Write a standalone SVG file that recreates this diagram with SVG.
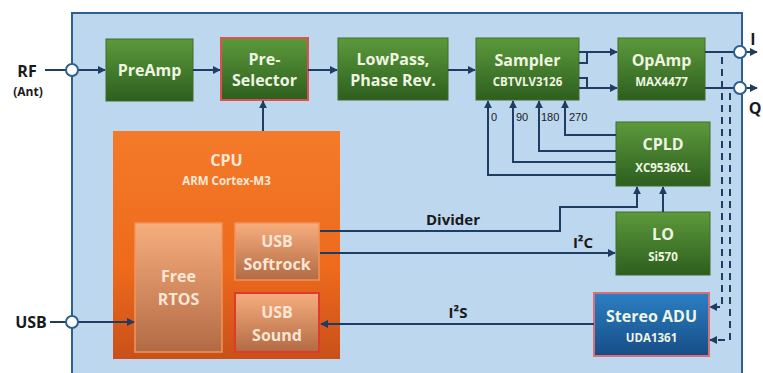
<svg xmlns="http://www.w3.org/2000/svg" width="763" height="373" viewBox="0 0 763 373">
<defs>
<linearGradient id="gGreen" x1="0" y1="0" x2="0" y2="1"><stop offset="0" stop-color="#5c9a3c"/><stop offset="1" stop-color="#2d5e1e"/></linearGradient>
<linearGradient id="gOrange" x1="0" y1="0" x2="0" y2="1"><stop offset="0" stop-color="#f47a2a"/><stop offset="0.6" stop-color="#ee6a1c"/><stop offset="1" stop-color="#c9501a"/></linearGradient>
<linearGradient id="gInner" x1="0" y1="0" x2="0" y2="1"><stop offset="0" stop-color="#f7ae7e"/><stop offset="1" stop-color="#b26a44"/></linearGradient>
<linearGradient id="gBlue" x1="0" y1="0" x2="0" y2="1"><stop offset="0" stop-color="#2b7fc4"/><stop offset="1" stop-color="#174d86"/></linearGradient>
<marker id="arr" viewBox="0 0 10 10" refX="9" refY="5" markerWidth="4" markerHeight="4" orient="auto-start-reverse"><path d="M0,0 L10,5 L0,10 z" fill="#1f3d63"/></marker>
<style>
.ln{fill:none;stroke:#1f3d63;stroke-width:2}
.dash{fill:none;stroke:#1f3d63;stroke-width:2;stroke-dasharray:7,5}
.green{fill:url(#gGreen);stroke:#3f6e2a;stroke-width:1}
.redb{stroke:#e05050;stroke-width:2}
.t{font-family:"Open Sans","Liberation Sans",sans-serif;font-weight:bold;text-anchor:middle}
.tw{fill:#eef6e2;font-size:16px}
.ts{fill:#eef6e2;font-size:11.5px}
.tk{fill:#1a1a1a}
.num{font-family:"Liberation Sans",Arial,sans-serif;font-size:11px;fill:#1a1a1a}
.circ{fill:#ffffff;stroke:#2f5f8f;stroke-width:2}
</style>
</defs>
<rect x="72" y="13" width="670" height="380" fill="#bcd7ee" stroke="#2f5f8f" stroke-width="2"/>

<g id="preamp"><rect class="green" x="106" y="39" width="87" height="62"/><text class="t tw" x="149.5" y="76">PreAmp</text></g>
<g id="preselector"><rect class="green redb" x="221" y="38" width="87" height="62"/><text class="t tw" x="264.5" y="65">Pre-</text><text class="t tw" x="264.5" y="86">Selector</text></g>
<g id="lowpass"><rect class="green" x="338" y="38" width="110" height="62"/><text class="t tw" x="393" y="65">LowPass,</text><text class="t tw" x="393" y="86">Phase Rev.</text></g>
<g id="sampler"><rect class="green" x="476" y="38" width="103" height="62"/><text class="t tw" x="527.5" y="66">Sampler</text><text class="t ts" x="527.5" y="86">CBTVLV3126</text></g>
<g id="opamp"><rect class="green" x="618" y="38" width="87" height="62"/><text class="t tw" x="661.5" y="66">OpAmp</text><text class="t ts" x="661.5" y="86">MAX4477</text></g>
<g id="cpld"><rect class="green" x="616" y="122" width="94" height="64"/><text class="t tw" x="663" y="150">CPLD</text><text class="t ts" x="663" y="172">XC9536XL</text></g>
<g id="lo"><rect class="green" x="616" y="212" width="94" height="63"/><text class="t tw" x="663" y="240">LO</text><text class="t ts" x="663" y="261">Si570</text></g>
<g id="adu"><rect x="594" y="293" width="115" height="63" fill="url(#gBlue)" stroke="#d8707a" stroke-width="2"/><text class="t tw" x="651.5" y="322" fill="#ffffff">Stereo ADU</text><text class="t ts" x="651.5" y="342">UDA1361</text></g>
<g id="cpu"><rect x="113" y="131" width="227" height="228" fill="url(#gOrange)"/><text class="t" x="226.5" y="166" font-size="16" fill="#fde8d6">CPU</text><text class="t" x="226.5" y="185" font-size="11.5" fill="#fde8d6">ARM Cortex-M3</text></g>
<g id="freertos"><rect x="135" y="223" width="87" height="129" fill="url(#gInner)" stroke="#f0955a" stroke-width="1.5"/><text class="t" x="178.5" y="282" font-size="16" fill="#fbe6d6">Free</text><text class="t" x="178.5" y="305" font-size="16" fill="#fbe6d6">RTOS</text></g>
<g id="usbsoftrock"><rect x="235" y="223" width="84" height="57" fill="url(#gInner)" stroke="#f0955a" stroke-width="1.5"/><text class="t" x="277" y="247" font-size="16" fill="#fbe6d6">USB</text><text class="t" x="277" y="270" font-size="16" fill="#fbe6d6">Softrock</text></g>
<g id="usbsound"><rect x="235" y="293" width="84" height="59" fill="url(#gInner)" stroke="#e03a2a" stroke-width="2"/><text class="t" x="277" y="318" font-size="16" fill="#fbe6d6">USB</text><text class="t" x="277" y="341" font-size="16" fill="#fbe6d6">Sound</text></g>

<g id="connectors">
<line class="ln" x1="45" y1="70" x2="66" y2="70"/>
<line class="ln" x1="78" y1="70" x2="105" y2="70" marker-end="url(#arr)"/>
<line class="ln" x1="193" y1="70" x2="220" y2="70" marker-end="url(#arr)"/>
<line class="ln" x1="308" y1="70" x2="337" y2="70" marker-end="url(#arr)"/>
<line class="ln" x1="448" y1="70" x2="475" y2="70" marker-end="url(#arr)"/>
<line class="ln" x1="263" y1="131" x2="263" y2="101" marker-end="url(#arr)"/>
<line class="ln" x1="579" y1="52" x2="617" y2="52" marker-end="url(#arr)"/>
<polyline class="ln" points="579,63 587,63 587,52"/>
<line class="ln" x1="579" y1="88" x2="617" y2="88" marker-end="url(#arr)"/>
<polyline class="ln" points="579,78 587,78 587,88"/>
<line class="ln" x1="705" y1="52" x2="734" y2="52"/>
<line class="ln" x1="705" y1="88" x2="734" y2="88"/>
<line class="ln" x1="746" y1="52" x2="757" y2="52" marker-end="url(#arr)"/>
<line class="ln" x1="746" y1="88" x2="757" y2="88" marker-end="url(#arr)"/>
<polyline class="dash" points="722,57 722,307 710,307" marker-end="url(#arr)"/>
<polyline class="dash" points="730,93 730,340 710,340" marker-end="url(#arr)"/>
<polyline class="ln" points="616,135 565,135 565,101" marker-end="url(#arr)"/>
<polyline class="ln" points="616,151 539,151 539,101" marker-end="url(#arr)"/>
<polyline class="ln" points="616,162 513,162 513,101" marker-end="url(#arr)"/>
<polyline class="ln" points="616,175 488,175 488,101" marker-end="url(#arr)"/>
<line class="ln" x1="663" y1="212" x2="663" y2="187" marker-end="url(#arr)"/>
<polyline class="ln" points="320,231 560,231 560,207 637,207 637,187" marker-end="url(#arr)"/>
<line class="ln" x1="320" y1="253" x2="615" y2="253" marker-end="url(#arr)"/>
<line class="ln" x1="594" y1="324" x2="321" y2="324" marker-end="url(#arr)"/>
<line class="ln" x1="50" y1="322" x2="66" y2="322"/>
<line class="ln" x1="78" y1="322" x2="134" y2="322" marker-end="url(#arr)"/>
</g>

<g id="ports">
<circle class="circ" cx="72" cy="70" r="6"/>
<circle class="circ" cx="72" cy="322" r="6"/>
<circle class="circ" cx="740" cy="52" r="6"/>
<circle class="circ" cx="740" cy="88" r="6"/>
</g>

<g id="labels">
<text class="t tk" x="27" y="77" font-size="16">RF</text>
<text class="t tk" x="28" y="96" font-size="12">(Ant)</text>
<text class="t tk" x="31" y="328" font-size="16">USB</text>
<text class="t tk" x="753" y="45" font-size="16">I</text>
<text class="t tk" x="755" y="114" font-size="16">Q</text>
<text class="num" x="491" y="121">0</text>
<text class="num" x="516" y="121">90</text>
<text class="num" x="541" y="121">180</text>
<text class="num" x="569" y="121">270</text>
<text class="t tk" x="453" y="225" font-size="15">Divider</text>
<text class="t tk" x="583" y="248" font-size="15">I²C</text>
<text class="t tk" x="458" y="318" font-size="15">I²S</text>
</g>
</svg>
